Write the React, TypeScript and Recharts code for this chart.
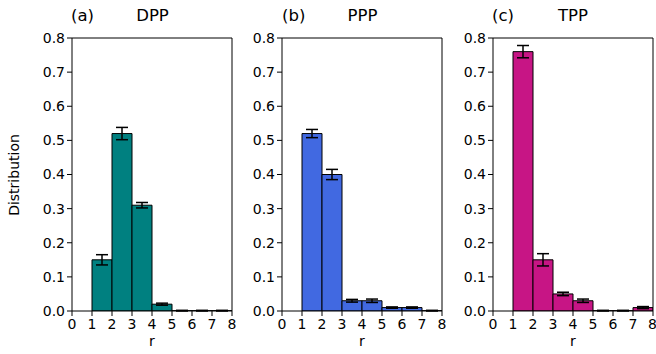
import React from 'react';
import { ComposedChart, Bar, XAxis, YAxis, ReferenceLine, ErrorBar, Rectangle } from 'recharts';

const bins = [0, 1, 2, 3, 4, 5, 6, 7];
const binCenters = [0.5, 1.5, 2.5, 3.5, 4.5, 5.5, 6.5, 7.5];
const xTicks = [0, 1, 2, 3, 4, 5, 6, 7, 8];
const yTicks = [0, 0.1, 0.2, 0.3, 0.4, 0.5, 0.6, 0.7, 0.8];

const dppValues = [null, 0.15, 0.52, 0.31, 0.02, 0.001, 0.001, 0.001];
const dppErrors = [null, 0.015, 0.018, 0.008, 0.003, 0.001, 0.001, 0.001];
const pppValues = [null, 0.52, 0.40, 0.03, 0.03, 0.01, 0.01, 0.001];
const pppErrors = [null, 0.012, 0.015, 0.004, 0.005, 0.002, 0.002, 0.001];
const tppValues = [null, 0.76, 0.15, 0.05, 0.03, 0.001, 0.001, 0.01];
const tppErrors = [null, 0.018, 0.018, 0.005, 0.005, 0.001, 0.001, 0.003];

const FONT = 'DejaVu Sans';
const PLOT_W = 160;
const BIN_W = PLOT_W / bins.length;

type PanelProps = {
  left: number;
  width: number;
  right: number;
  values: (number | null)[];
  errors: (number | null)[];
  color: string;
};

const BinShape = (p: any) => {
  if (p.height == null || !isFinite(p.height)) return null;
  const cx = p.x + p.width / 2;
  return (
    <Rectangle x={cx - BIN_W / 2} y={p.y} width={BIN_W} height={p.height} fill={p.fill} stroke="#000" strokeWidth={1} />
  );
};

function Panel({ left, width, right, values, errors, color }: PanelProps) {
  const data = bins.map((b, i) => ({ x: binCenters[i], value: values[i], err: errors[i] }));
  return (
    <div style={{ position: 'absolute', left, top: 0 }}>
      <ComposedChart
        width={width}
        height={354}
        data={data}
        margin={{ top: 38, right, bottom: 0, left: 0 }}
        barCategoryGap={0}
        barGap={0}
        style={{ fontFamily: FONT }}
      >
        <XAxis
          dataKey="x"
          type="number"
          domain={[0, 8]}
          ticks={xTicks}
          allowDataOverflow
          height={43}
          stroke="#000"
          tickSize={5}
          tickMargin={3}
          tick={{ fill: '#000', fontSize: 14, fontFamily: FONT }}
          label={{ value: 'r', position: 'insideBottom', offset: 8, fill: '#000', fontSize: 14, fontFamily: FONT }}
        />
        <YAxis
          type="number"
          domain={[0, 0.8]}
          ticks={yTicks}
          allowDataOverflow
          width={72}
          stroke="#000"
          tickSize={5}
          tickMargin={2}
          tickFormatter={(v: number) => v.toFixed(1)}
          tick={{ fill: '#000', fontSize: 14, fontFamily: FONT }}
        />
        <ReferenceLine y={0.8} stroke="#000" strokeWidth={1} />
        <ReferenceLine x={8} stroke="#000" strokeWidth={1} />
        <Bar dataKey="value" fill={color} stroke="#000" strokeWidth={1} shape={BinShape} isAnimationActive={false}>
          <ErrorBar dataKey="err" width={6} stroke="#000" strokeWidth={1.5} />
        </Bar>
      </ComposedChart>
    </div>
  );
}

export default function App() {
  return (
    <div style={{ position: 'absolute', left: 0, top: 0, width: 656, height: 354, overflow: 'hidden', background: '#fff' }}>
      <Panel left={0} width={240} right={8} values={dppValues} errors={dppErrors} color="#008080" />
      <Panel left={210} width={240} right={8} values={pppValues} errors={pppErrors} color="#4169E1" />
      <Panel left={421} width={235} right={3} values={tppValues} errors={tppErrors} color="#C71585" />
      <svg width={656} height={354} style={{ position: 'absolute', left: 0, top: 0, pointerEvents: 'none' }}>
        <g fontFamily={FONT} fill="#000">
          <text x={71} y={21} fontSize={16.5}>(a)</text>
          <text x={152.5} y={21} fontSize={16.5} textAnchor="middle">DPP</text>
          <text x={282} y={21} fontSize={16.5}>(b)</text>
          <text x={362.5} y={21} fontSize={16.5} textAnchor="middle">PPP</text>
          <text x={492} y={21} fontSize={16.5}>(c)</text>
          <text x={573} y={21} fontSize={16.5} textAnchor="middle">TPP</text>
          <text x={19} y={175} fontSize={14} textAnchor="middle" transform="rotate(-90 19 175)">Distribution</text>
        </g>
      </svg>
    </div>
  );
}
